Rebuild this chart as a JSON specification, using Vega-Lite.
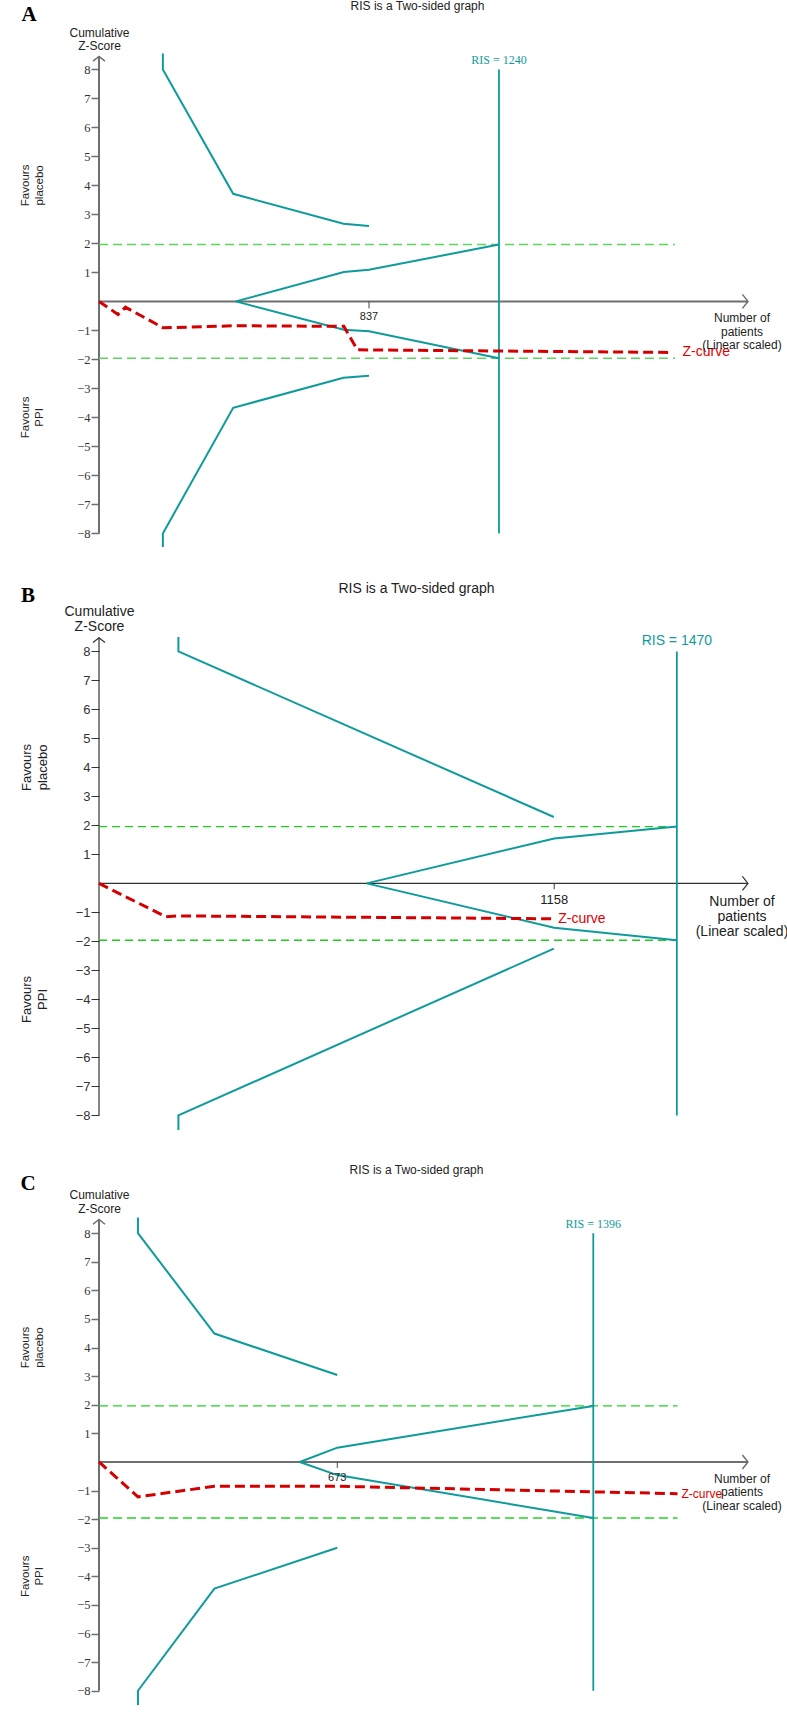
{
  "$schema": "https://vega.github.io/schema/vega-lite/v6.json",
  "padding": {"left": 20, "top": 0, "right": 5, "bottom": 5},
  "background": "white",
  "config": {
    "view": {"stroke": null},
    "axisY": {"domain": false, "grid": false, "tickSize": 8, "labelPadding": 1, "labelOverlap": false, "labelFlush": false, "labelBound": false,
      "titleAngle": 0, "titleAlign": "center", "titleBaseline": "alphabetic", "titleX": 0, "titleFontWeight": "normal", "titleColor": "#222", "labelColor": "#333"}
  },
  "bounds": "flush",
  "spacing": 83,
  "vconcat": [
    {
      "width": 649,
      "height": 498.8,
      "title": {"text": "RIS is a Two-sided graph", "font": "Liberation Sans", "fontSize": 12, "fontWeight": "normal", "color": "#222", "anchor": "middle", "offset": -9, "dx": -6},
      "data": {"values": [
        {"part": "U", "o": 1, "n": 198, "z": 8.55},
        {"part": "U", "o": 2, "n": 198, "z": 8},
        {"part": "U", "o": 3, "n": 416, "z": 3.71},
        {"part": "U", "o": 4, "n": 758, "z": 2.68},
        {"part": "U", "o": 5, "n": 837, "z": 2.6},
        {"part": "L", "o": 1, "n": 198, "z": -8.47},
        {"part": "L", "o": 2, "n": 198, "z": -8},
        {"part": "L", "o": 3, "n": 416, "z": -3.67},
        {"part": "L", "o": 4, "n": 758, "z": -2.63},
        {"part": "L", "o": 5, "n": 837, "z": -2.56},
        {"part": "IU", "o": 1, "n": 424, "z": 0},
        {"part": "IU", "o": 2, "n": 759, "z": 1.01},
        {"part": "IU", "o": 3, "n": 837, "z": 1.09},
        {"part": "IU", "o": 4, "n": 1240, "z": 1.96},
        {"part": "IL", "o": 1, "n": 424, "z": 0},
        {"part": "IL", "o": 2, "n": 759, "z": -0.98},
        {"part": "IL", "o": 3, "n": 837, "z": -1.03},
        {"part": "IL", "o": 4, "n": 1240, "z": -1.96},
        {"part": "Z", "o": 1, "n": 0, "z": 0},
        {"part": "Z", "o": 2, "n": 59, "z": -0.45},
        {"part": "Z", "o": 3, "n": 82, "z": -0.2},
        {"part": "Z", "o": 4, "n": 199, "z": -0.91},
        {"part": "Z", "o": 5, "n": 424, "z": -0.84},
        {"part": "Z", "o": 6, "n": 759, "z": -0.86},
        {"part": "Z", "o": 7, "n": 801, "z": -1.67},
        {"part": "Z", "o": 8, "n": 1778, "z": -1.76, "label": "Z-curve"},
        {"part": "G", "n": 0, "n2": 1786, "z": 1.96},
        {"part": "G", "n": 0, "n2": 1786, "z": -1.96},
        {"part": "RIS", "n": 1240, "z": -8, "z2": 8, "label": "RIS = 1240"},
        {"part": "T", "n": 837, "label": "837"}
      ]},
      "layer": [
        {
          "data": {"values": [{}]},
          "mark": {"type": "rule", "color": "#6f6f6f", "strokeWidth": 2},
          "encoding": {
            "x": {"datum": 0, "type": "quantitative", "scale": {"domain": [0, 2012], "nice": false, "zero": false}, "axis": null},
            "y": {"datum": -8, "type": "quantitative", "scale": {"domain": [-8.6, 8.6], "nice": false, "zero": false},
              "axis": {"values": [-8, -7, -6, -5, -4, -3, -2, -1, 1, 2, 3, 4, 5, 6, 7, 8], "tickCount": 40, "format": "d",
                "tickColor": "#6f6f6f", "tickWidth": 1.5, "labelFont": "Liberation Serif", "labelFontSize": 12.5,
                "title": ["Cumulative", "Z-Score"], "titleFont": "Liberation Sans", "titleFontSize": 12, "titleY": -16, "titleLineHeight": 13.3}},
            "y2": {"datum": 8.45}
          }
        },
        {
          "data": {"values": [{}]},
          "mark": {"type": "rule", "color": "#6f6f6f", "strokeWidth": 2},
          "encoding": {
            "x": {"datum": 0, "type": "quantitative", "axis": null},
            "x2": {"datum": 2012},
            "y": {"datum": 0, "type": "quantitative"}
          }
        },
        {
          "data": {"values": [{}]},
          "mark": {"type": "point", "shape": "M-1,0.8L0,0L1,0.8", "size": 144, "filled": false, "stroke": "#6f6f6f", "strokeWidth": 1.5, "opacity": 1},
          "encoding": {
            "x": {"datum": 0, "type": "quantitative", "axis": null},
            "y": {"datum": 8.45, "type": "quantitative"}
          }
        },
        {
          "data": {"values": [{}]},
          "mark": {"type": "point", "shape": "M-0.8,-1L0,0L-0.8,1", "size": 196, "filled": false, "stroke": "#6f6f6f", "strokeWidth": 1.5, "opacity": 1},
          "encoding": {
            "x": {"datum": 2012, "type": "quantitative", "axis": null},
            "y": {"datum": 0, "type": "quantitative"}
          }
        },
        {
          "transform": [{"filter": "datum.part === 'G'"}],
          "mark": {"type": "rule", "color": "#5cd65c", "strokeWidth": 1.5, "strokeDash": [9, 5]},
          "encoding": {
            "x": {"field": "n", "type": "quantitative", "axis": null},
            "x2": {"field": "n2"},
            "y": {"field": "z", "type": "quantitative"}
          }
        },
        {
          "transform": [{"filter": "indexof(['U','L','IU','IL'], datum.part) >= 0"}],
          "mark": {"type": "line", "color": "#0f9b9b", "strokeWidth": 2},
          "encoding": {
            "x": {"field": "n", "type": "quantitative", "axis": null},
            "y": {"field": "z", "type": "quantitative"},
            "detail": {"field": "part"},
            "order": {"field": "o"}
          }
        },
        {
          "transform": [{"filter": "datum.part === 'RIS'"}],
          "mark": {"type": "rule", "color": "#0f9b9b", "strokeWidth": 1.8},
          "encoding": {
            "x": {"field": "n", "type": "quantitative", "axis": null},
            "y": {"field": "z", "type": "quantitative"},
            "y2": {"field": "z2"}
          }
        },
        {
          "transform": [{"filter": "datum.part === 'RIS'"}],
          "mark": {"type": "text", "color": "#0f9b9b", "font": "Liberation Serif", "fontSize": 12, "align": "center", "baseline": "middle", "dy": -9},
          "encoding": {
            "x": {"field": "n", "type": "quantitative", "axis": null},
            "y": {"field": "z2", "type": "quantitative"},
            "text": {"field": "label"}
          }
        },
        {
          "transform": [{"filter": "datum.part === 'Z'"}],
          "mark": {"type": "line", "color": "#d40000", "strokeWidth": 3, "strokeDash": [10, 5]},
          "encoding": {
            "x": {"field": "n", "type": "quantitative", "axis": null},
            "y": {"field": "z", "type": "quantitative"},
            "order": {"field": "o"}
          }
        },
        {
          "transform": [{"filter": "datum.part === 'Z' && datum.label"}],
          "mark": {"type": "text", "color": "#e00000", "font": "Liberation Sans", "fontSize": 14, "align": "left", "baseline": "middle", "dx": 10},
          "encoding": {
            "x": {"field": "n", "type": "quantitative", "axis": null},
            "y": {"field": "z", "type": "quantitative"},
            "text": {"field": "label"}
          }
        },
        {
          "transform": [{"filter": "datum.part === 'T'"}],
          "mark": {"type": "rule", "color": "#444", "strokeWidth": 1},
          "encoding": {
            "x": {"field": "n", "type": "quantitative", "axis": null},
            "y": {"datum": 0, "type": "quantitative"},
            "y2": {"datum": -0.24}
          }
        },
        {
          "transform": [{"filter": "datum.part === 'T'"}],
          "mark": {"type": "text", "color": "#222", "font": "Liberation Sans", "fontSize": 11, "align": "center", "baseline": "middle", "dy": 16},
          "encoding": {
            "x": {"field": "n", "type": "quantitative", "axis": null},
            "y": {"datum": 0, "type": "quantitative"},
            "text": {"field": "label"}
          }
        },
        {
          "data": {"values": [{"t": "Number of\npatients\n(Linear scaled)", "n": 2012, "z": 0}]},
          "mark": {"type": "text", "color": "#222", "font": "Liberation Sans", "fontSize": 12, "align": "center", "baseline": "alphabetic", "lineBreak": "\n", "lineHeight": 13.5, "dx": -6, "dy": 21},
          "encoding": {
            "x": {"field": "n", "type": "quantitative", "axis": null},
            "y": {"field": "z", "type": "quantitative"},
            "text": {"field": "t"}
          }
        },
        {
          "data": {"values": [{"t": "Favours\nplacebo", "n": 0, "z": 4}, {"t": "Favours\nPPI", "n": 0, "z": -4}]},
          "mark": {"type": "text", "color": "#222", "font": "Liberation Sans", "fontSize": 11.5, "align": "center", "baseline": "alphabetic", "lineBreak": "\n", "lineHeight": 14, "angle": 270, "dy": -70},
          "encoding": {
            "x": {"field": "n", "type": "quantitative", "axis": null},
            "y": {"field": "z", "type": "quantitative"},
            "text": {"field": "t"}
          }
        },
        {
          "data": {"values": [{"t": "A", "n": 0, "z": 8.6}]},
          "mark": {"type": "text", "color": "#000", "font": "Liberation Serif", "fontSize": 21, "fontWeight": "bold", "align": "center", "baseline": "middle", "dx": -70, "dy": -36.6},
          "encoding": {
            "x": {"field": "n", "type": "quantitative", "axis": null},
            "y": {"field": "z", "type": "quantitative"},
            "text": {"field": "t"}
          }
        }
      ]
    },
    {
      "width": 649,
      "height": 498.8,
      "title": {"text": "RIS is a Two-sided graph", "font": "Liberation Sans", "fontSize": 14, "fontWeight": "normal", "color": "#222", "anchor": "middle", "offset": -11, "dx": -7},
      "data": {"values": [
        {"part": "U", "o": 1, "n": 202, "z": 8.5},
        {"part": "U", "o": 2, "n": 202, "z": 8},
        {"part": "U", "o": 3, "n": 1157, "z": 2.29},
        {"part": "L", "o": 1, "n": 202, "z": -8.5},
        {"part": "L", "o": 2, "n": 202, "z": -8},
        {"part": "L", "o": 3, "n": 1157, "z": -2.25},
        {"part": "IU", "o": 1, "n": 681, "z": 0},
        {"part": "IU", "o": 2, "n": 1158, "z": 1.55},
        {"part": "IU", "o": 3, "n": 1470, "z": 1.96},
        {"part": "IL", "o": 1, "n": 681, "z": 0},
        {"part": "IL", "o": 2, "n": 1158, "z": -1.53},
        {"part": "IL", "o": 3, "n": 1470, "z": -1.96},
        {"part": "Z", "o": 1, "n": 0, "z": 0},
        {"part": "Z", "o": 2, "n": 170, "z": -1.15},
        {"part": "Z", "o": 3, "n": 202, "z": -1.12},
        {"part": "Z", "o": 4, "n": 1158, "z": -1.22, "label": "Z-curve"},
        {"part": "G", "n": 0, "n2": 1470, "z": 1.96},
        {"part": "G", "n": 0, "n2": 1470, "z": -1.96},
        {"part": "RIS", "n": 1470, "z": -8, "z2": 8, "label": "RIS = 1470"},
        {"part": "T", "n": 1158, "label": "1158"}
      ]},
      "layer": [
        {
          "data": {"values": [{}]},
          "mark": {"type": "rule", "color": "#333", "strokeWidth": 1.2},
          "encoding": {
            "x": {"datum": 0, "type": "quantitative", "scale": {"domain": [0, 1651], "nice": false, "zero": false}, "axis": null},
            "y": {"datum": -8, "type": "quantitative", "scale": {"domain": [-8.6, 8.6], "nice": false, "zero": false},
              "axis": {"values": [-8, -7, -6, -5, -4, -3, -2, -1, 1, 2, 3, 4, 5, 6, 7, 8], "tickCount": 40, "format": "d",
                "tickColor": "#333", "tickWidth": 1, "labelFont": "Liberation Sans", "labelFontSize": 13,
                "title": ["Cumulative", "Z-Score"], "titleFont": "Liberation Sans", "titleFontSize": 14, "titleY": -18.4, "titleLineHeight": 15}},
            "y2": {"datum": 8.47}
          }
        },
        {
          "data": {"values": [{}]},
          "mark": {"type": "rule", "color": "#333", "strokeWidth": 1.2},
          "encoding": {
            "x": {"datum": 0, "type": "quantitative", "axis": null},
            "x2": {"datum": 1651},
            "y": {"datum": 0, "type": "quantitative"}
          }
        },
        {
          "data": {"values": [{}]},
          "mark": {"type": "point", "shape": "M-1,0.8L0,0L1,0.8", "size": 144, "filled": false, "stroke": "#333", "strokeWidth": 1.2, "opacity": 1},
          "encoding": {
            "x": {"datum": 0, "type": "quantitative", "axis": null},
            "y": {"datum": 8.47, "type": "quantitative"}
          }
        },
        {
          "data": {"values": [{}]},
          "mark": {"type": "point", "shape": "M-0.8,-1L0,0L-0.8,1", "size": 196, "filled": false, "stroke": "#333", "strokeWidth": 1.2, "opacity": 1},
          "encoding": {
            "x": {"datum": 1651, "type": "quantitative", "axis": null},
            "y": {"datum": 0, "type": "quantitative"}
          }
        },
        {
          "transform": [{"filter": "datum.part === 'G'"}],
          "mark": {"type": "rule", "color": "#1ecb1e", "strokeWidth": 1.3, "strokeDash": [8, 5]},
          "encoding": {
            "x": {"field": "n", "type": "quantitative", "axis": null},
            "x2": {"field": "n2"},
            "y": {"field": "z", "type": "quantitative"}
          }
        },
        {
          "transform": [{"filter": "indexof(['U','L','IU','IL'], datum.part) >= 0"}],
          "mark": {"type": "line", "color": "#0f9b9b", "strokeWidth": 2},
          "encoding": {
            "x": {"field": "n", "type": "quantitative", "axis": null},
            "y": {"field": "z", "type": "quantitative"},
            "detail": {"field": "part"},
            "order": {"field": "o"}
          }
        },
        {
          "transform": [{"filter": "datum.part === 'RIS'"}],
          "mark": {"type": "rule", "color": "#0f9b9b", "strokeWidth": 1.8},
          "encoding": {
            "x": {"field": "n", "type": "quantitative", "axis": null},
            "y": {"field": "z", "type": "quantitative"},
            "y2": {"field": "z2"}
          }
        },
        {
          "transform": [{"filter": "datum.part === 'RIS'"}],
          "mark": {"type": "text", "color": "#0f9b9b", "font": "Liberation Sans", "fontSize": 14, "align": "center", "baseline": "middle", "dy": -10},
          "encoding": {
            "x": {"field": "n", "type": "quantitative", "axis": null},
            "y": {"field": "z2", "type": "quantitative"},
            "text": {"field": "label"}
          }
        },
        {
          "transform": [{"filter": "datum.part === 'Z'"}],
          "mark": {"type": "line", "color": "#d40000", "strokeWidth": 3, "strokeDash": [10, 5]},
          "encoding": {
            "x": {"field": "n", "type": "quantitative", "axis": null},
            "y": {"field": "z", "type": "quantitative"},
            "order": {"field": "o"}
          }
        },
        {
          "transform": [{"filter": "datum.part === 'Z' && datum.label"}],
          "mark": {"type": "text", "color": "#e00000", "font": "Liberation Sans", "fontSize": 14, "align": "left", "baseline": "middle", "dx": 4},
          "encoding": {
            "x": {"field": "n", "type": "quantitative", "axis": null},
            "y": {"field": "z", "type": "quantitative"},
            "text": {"field": "label"}
          }
        },
        {
          "transform": [{"filter": "datum.part === 'T'"}],
          "mark": {"type": "rule", "color": "#333", "strokeWidth": 1},
          "encoding": {
            "x": {"field": "n", "type": "quantitative", "axis": null},
            "y": {"datum": 0, "type": "quantitative"},
            "y2": {"datum": -0.2}
          }
        },
        {
          "transform": [{"filter": "datum.part === 'T'"}],
          "mark": {"type": "text", "color": "#222", "font": "Liberation Sans", "fontSize": 13, "align": "center", "baseline": "middle", "dy": 17},
          "encoding": {
            "x": {"field": "n", "type": "quantitative", "axis": null},
            "y": {"datum": 0, "type": "quantitative"},
            "text": {"field": "label"}
          }
        },
        {
          "data": {"values": [{"t": "Number of\npatients\n(Linear scaled)", "n": 1651, "z": 0}]},
          "mark": {"type": "text", "color": "#222", "font": "Liberation Sans", "fontSize": 14, "align": "center", "baseline": "alphabetic", "lineBreak": "\n", "lineHeight": 14.7, "dx": -6, "dy": 23},
          "encoding": {
            "x": {"field": "n", "type": "quantitative", "axis": null},
            "y": {"field": "z", "type": "quantitative"},
            "text": {"field": "t"}
          }
        },
        {
          "data": {"values": [{"t": "Favours\nplacebo", "n": 0, "z": 4}, {"t": "Favours\nPPI", "n": 0, "z": -4}]},
          "mark": {"type": "text", "color": "#222", "font": "Liberation Sans", "fontSize": 13, "align": "center", "baseline": "alphabetic", "lineBreak": "\n", "lineHeight": 15.5, "angle": 270, "dy": -68},
          "encoding": {
            "x": {"field": "n", "type": "quantitative", "axis": null},
            "y": {"field": "z", "type": "quantitative"},
            "text": {"field": "t"}
          }
        },
        {
          "data": {"values": [{"t": "B", "n": 0, "z": 8.6}]},
          "mark": {"type": "text", "color": "#000", "font": "Liberation Serif", "fontSize": 21, "fontWeight": "bold", "align": "center", "baseline": "middle", "dx": -71, "dy": -38.4},
          "encoding": {
            "x": {"field": "n", "type": "quantitative", "axis": null},
            "y": {"field": "z", "type": "quantitative"},
            "text": {"field": "t"}
          }
        }
      ]
    },
    {
      "width": 649,
      "height": 491.9,
      "title": {"text": "RIS is a Two-sided graph", "font": "Liberation Sans", "fontSize": 12, "fontWeight": "normal", "color": "#222", "anchor": "middle", "offset": -4, "dx": -7},
      "data": {"values": [
        {"part": "U", "o": 1, "n": 110, "z": 8.55},
        {"part": "U", "o": 2, "n": 110, "z": 8},
        {"part": "U", "o": 3, "n": 326, "z": 4.49},
        {"part": "U", "o": 4, "n": 673, "z": 3.04},
        {"part": "L", "o": 1, "n": 110, "z": -8.5},
        {"part": "L", "o": 2, "n": 110, "z": -8},
        {"part": "L", "o": 3, "n": 326, "z": -4.43},
        {"part": "L", "o": 4, "n": 673, "z": -3.0},
        {"part": "IU", "o": 1, "n": 567, "z": 0},
        {"part": "IU", "o": 2, "n": 673, "z": 0.5},
        {"part": "IU", "o": 3, "n": 1396, "z": 1.96},
        {"part": "IL", "o": 1, "n": 567, "z": 0},
        {"part": "IL", "o": 2, "n": 673, "z": -0.46},
        {"part": "IL", "o": 3, "n": 1396, "z": -1.96},
        {"part": "Z", "o": 1, "n": 0, "z": 0},
        {"part": "Z", "o": 2, "n": 110, "z": -1.22},
        {"part": "Z", "o": 3, "n": 326, "z": -0.85},
        {"part": "Z", "o": 4, "n": 673, "z": -0.85},
        {"part": "Z", "o": 5, "n": 1634, "z": -1.11, "label": "Z-curve"},
        {"part": "G", "n": 0, "n2": 1634, "z": 1.96},
        {"part": "G", "n": 0, "n2": 1634, "z": -1.96},
        {"part": "RIS", "n": 1396, "z": -8, "z2": 8, "label": "RIS = 1396"},
        {"part": "T", "n": 673, "label": "673"}
      ]},
      "layer": [
        {
          "data": {"values": [{}]},
          "mark": {"type": "rule", "color": "#6f6f6f", "strokeWidth": 2},
          "encoding": {
            "x": {"datum": 0, "type": "quantitative", "scale": {"domain": [0, 1833], "nice": false, "zero": false}, "axis": null},
            "y": {"datum": -8, "type": "quantitative", "scale": {"domain": [-8.6, 8.6], "nice": false, "zero": false},
              "axis": {"values": [-8, -7, -6, -5, -4, -3, -2, -1, 1, 2, 3, 4, 5, 6, 7, 8], "tickCount": 40, "format": "d",
                "tickColor": "#6f6f6f", "tickWidth": 1.5, "labelFont": "Liberation Serif", "labelFontSize": 12.5,
                "title": ["Cumulative", "Z-Score"], "titleFont": "Liberation Sans", "titleFontSize": 12, "titleY": -17.5, "titleLineHeight": 14.4}},
            "y2": {"datum": 8.48}
          }
        },
        {
          "data": {"values": [{}]},
          "mark": {"type": "rule", "color": "#6f6f6f", "strokeWidth": 2},
          "encoding": {
            "x": {"datum": 0, "type": "quantitative", "axis": null},
            "x2": {"datum": 1833},
            "y": {"datum": 0, "type": "quantitative"}
          }
        },
        {
          "data": {"values": [{}]},
          "mark": {"type": "point", "shape": "M-1,0.8L0,0L1,0.8", "size": 144, "filled": false, "stroke": "#6f6f6f", "strokeWidth": 1.5, "opacity": 1},
          "encoding": {
            "x": {"datum": 0, "type": "quantitative", "axis": null},
            "y": {"datum": 8.48, "type": "quantitative"}
          }
        },
        {
          "data": {"values": [{}]},
          "mark": {"type": "point", "shape": "M-0.8,-1L0,0L-0.8,1", "size": 196, "filled": false, "stroke": "#6f6f6f", "strokeWidth": 1.5, "opacity": 1},
          "encoding": {
            "x": {"datum": 1833, "type": "quantitative", "axis": null},
            "y": {"datum": 0, "type": "quantitative"}
          }
        },
        {
          "transform": [{"filter": "datum.part === 'G'"}],
          "mark": {"type": "rule", "color": "#22d422", "strokeWidth": 1.3, "strokeDash": [9, 5]},
          "encoding": {
            "x": {"field": "n", "type": "quantitative", "axis": null},
            "x2": {"field": "n2"},
            "y": {"field": "z", "type": "quantitative"}
          }
        },
        {
          "transform": [{"filter": "indexof(['U','L','IU','IL'], datum.part) >= 0"}],
          "mark": {"type": "line", "color": "#0f9b9b", "strokeWidth": 2},
          "encoding": {
            "x": {"field": "n", "type": "quantitative", "axis": null},
            "y": {"field": "z", "type": "quantitative"},
            "detail": {"field": "part"},
            "order": {"field": "o"}
          }
        },
        {
          "transform": [{"filter": "datum.part === 'RIS'"}],
          "mark": {"type": "rule", "color": "#0f9b9b", "strokeWidth": 1.8},
          "encoding": {
            "x": {"field": "n", "type": "quantitative", "axis": null},
            "y": {"field": "z", "type": "quantitative"},
            "y2": {"field": "z2"}
          }
        },
        {
          "transform": [{"filter": "datum.part === 'RIS'"}],
          "mark": {"type": "text", "color": "#0f9b9b", "font": "Liberation Serif", "fontSize": 12, "align": "center", "baseline": "middle", "dy": -9},
          "encoding": {
            "x": {"field": "n", "type": "quantitative", "axis": null},
            "y": {"field": "z2", "type": "quantitative"},
            "text": {"field": "label"}
          }
        },
        {
          "transform": [{"filter": "datum.part === 'Z'"}],
          "mark": {"type": "line", "color": "#d40000", "strokeWidth": 3, "strokeDash": [10, 5]},
          "encoding": {
            "x": {"field": "n", "type": "quantitative", "axis": null},
            "y": {"field": "z", "type": "quantitative"},
            "order": {"field": "o"}
          }
        },
        {
          "transform": [{"filter": "datum.part === 'Z' && datum.label"}],
          "mark": {"type": "text", "color": "#e00000", "font": "Liberation Sans", "fontSize": 12, "align": "left", "baseline": "middle", "dx": 4},
          "encoding": {
            "x": {"field": "n", "type": "quantitative", "axis": null},
            "y": {"field": "z", "type": "quantitative"},
            "text": {"field": "label"}
          }
        },
        {
          "transform": [{"filter": "datum.part === 'T'"}],
          "mark": {"type": "rule", "color": "#444", "strokeWidth": 1},
          "encoding": {
            "x": {"field": "n", "type": "quantitative", "axis": null},
            "y": {"datum": 0, "type": "quantitative"},
            "y2": {"datum": -0.21}
          }
        },
        {
          "transform": [{"filter": "datum.part === 'T'"}],
          "mark": {"type": "text", "color": "#222", "font": "Liberation Sans", "fontSize": 11, "align": "center", "baseline": "middle", "dy": 16},
          "encoding": {
            "x": {"field": "n", "type": "quantitative", "axis": null},
            "y": {"datum": 0, "type": "quantitative"},
            "text": {"field": "label"}
          }
        },
        {
          "data": {"values": [{"t": "Number of\npatients\n(Linear scaled)", "n": 1833, "z": 0}]},
          "mark": {"type": "text", "color": "#222", "font": "Liberation Sans", "fontSize": 12, "align": "center", "baseline": "alphabetic", "lineBreak": "\n", "lineHeight": 13.5, "dx": -6, "dy": 20.6},
          "encoding": {
            "x": {"field": "n", "type": "quantitative", "axis": null},
            "y": {"field": "z", "type": "quantitative"},
            "text": {"field": "t"}
          }
        },
        {
          "data": {"values": [{"t": "Favours\nplacebo", "n": 0, "z": 4}, {"t": "Favours\nPPI", "n": 0, "z": -4}]},
          "mark": {"type": "text", "color": "#222", "font": "Liberation Sans", "fontSize": 11.5, "align": "center", "baseline": "alphabetic", "lineBreak": "\n", "lineHeight": 14, "angle": 270, "dy": -70},
          "encoding": {
            "x": {"field": "n", "type": "quantitative", "axis": null},
            "y": {"field": "z", "type": "quantitative"},
            "text": {"field": "t"}
          }
        },
        {
          "data": {"values": [{"t": "C", "n": 0, "z": 8.6}]},
          "mark": {"type": "text", "color": "#000", "font": "Liberation Serif", "fontSize": 21, "fontWeight": "bold", "align": "center", "baseline": "middle", "dx": -71, "dy": -32.5},
          "encoding": {
            "x": {"field": "n", "type": "quantitative", "axis": null},
            "y": {"field": "z", "type": "quantitative"},
            "text": {"field": "t"}
          }
        }
      ]
    }
  ]
}
